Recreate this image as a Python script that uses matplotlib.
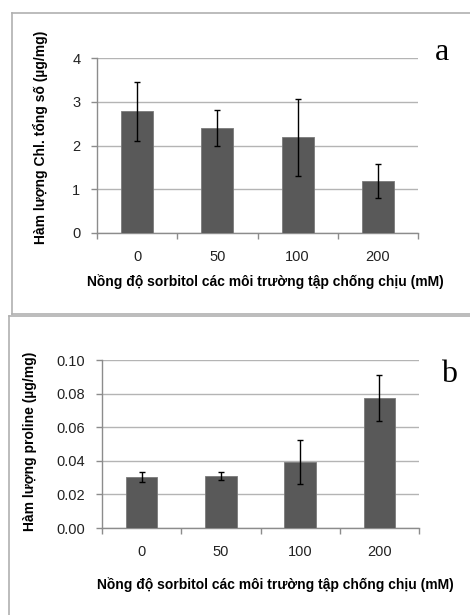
"""Chl. and proline content under sorbitol treatment (two panels)."""
import matplotlib.pyplot as plt
from matplotlib.lines import Line2D

plt.rcParams['font.family'] = ['Liberation Sans', 'DejaVu Sans']

W, H = 470, 615

categories = ["0", "50", "100", "200"]

# panel a: total chlorophyll
chl_values = [2.78, 2.40, 2.19, 1.18]
chl_err = [0.67, 0.41, 0.88, 0.39]
chl_ticks = [0, 1, 2, 3, 4]

# panel b: proline
pro_values = [0.0303, 0.0307, 0.0394, 0.0774]
pro_err = [0.0030, 0.0024, 0.0132, 0.0138]
pro_ticks = [0.00, 0.02, 0.04, 0.06, 0.08, 0.10]

xlabel = "Nồng độ sorbitol các môi trường tập chống chịu (mM)"
ylabel_a = "Hàm lượng Chl. tổng số (µg/mg)"
ylabel_b = "Hàm lượng proline (µg/mg)"

BAR = "#595959"
GRID = "#b4b4b4"
SPINE = "#8c8c8c"
BOX = "#b0b0b0"


def px(x0, y0, x1, y1):
    """Pixel box (top-left origin) -> figure fraction rect."""
    return [x0 / W, 1 - y1 / H, (x1 - x0) / W, (y1 - y0) / H]


def draw_panel(ax, values, err, ticks, fmt):
    x = range(len(categories))
    ax.bar(x, values, width=0.4, color=BAR, edgecolor="#7a7a7a", linewidth=0.6, zorder=3)
    ax.errorbar(x, values, yerr=err, fmt="none", ecolor="black", elinewidth=1,
                capsize=2, capthick=1, zorder=4)
    ax.set_xlim(-0.5, len(categories) - 0.5)
    ax.set_ylim(ticks[0], ticks[-1])
    ax.set_yticks(ticks)
    ax.set_yticklabels([fmt.format(t) for t in ticks], fontsize=10.5, color="#222222")
    ax.set_xticks(list(x))
    ax.set_xticklabels(categories, fontsize=10.5, color="#222222")
    ax.set_xticks([i - 0.5 for i in range(len(categories) + 1)], minor=True)
    ax.tick_params(axis="x", which="major", length=0, pad=12)
    ax.tick_params(axis="x", which="minor", length=4, color=SPINE, width=1)
    ax.tick_params(axis="y", length=4, color=SPINE, width=1, pad=8)
    ax.yaxis.grid(True, color=GRID, linewidth=1, zorder=0)
    ax.set_axisbelow(True)
    for side in ("top", "right"):
        ax.spines[side].set_visible(False)
    for side in ("left", "bottom"):
        ax.spines[side].set_color(SPINE)
        ax.spines[side].set_linewidth(1)


fig = plt.figure(figsize=(W / 100, H / 100), dpi=100)

ax_a = fig.add_axes(px(97, 58, 418, 233))
draw_panel(ax_a, chl_values, chl_err, chl_ticks, "{:g}")

ax_b = fig.add_axes(px(102, 360, 419, 528))
draw_panel(ax_b, pro_values, pro_err, pro_ticks, "{:.2f}")

# axis titles and panel letters
fig.text(40 / W, 1 - 137 / H, ylabel_a, rotation=90, ha="center", va="center",
         fontsize=10, fontweight="bold")
fig.text(265 / W, 1 - 282 / H, xlabel, ha="center", va="center", fontsize=10, fontweight="bold")
fig.text(30 / W, 1 - 441 / H, ylabel_b, rotation=90, ha="center", va="center",
         fontsize=10, fontweight="bold")
fig.text(275 / W, 1 - 585 / H, xlabel, ha="center", va="center", fontsize=10, fontweight="bold")
fig.text(442 / W, 1 - 52 / H, "a", ha="center", va="center", fontsize=23,
         family="Liberation Serif")
fig.text(449 / W, 1 - 375 / H, "b", ha="center", va="center", fontsize=23,
         family="Liberation Serif")

# frames around the two panels
frame_lines = [
    ((12, W), (13, 13)), ((12, 12), (13, 314)), ((12, W), (314, 314)),
    ((9, W), (316, 316)), ((9, 9), (316, H)),
]
for xs, ys in frame_lines:
    fig.add_artist(Line2D([v / W for v in xs], [1 - v / H for v in ys],
                          color=BOX, linewidth=1.2, transform=fig.transFigure))

fig.savefig("out.png", dpi=100)
